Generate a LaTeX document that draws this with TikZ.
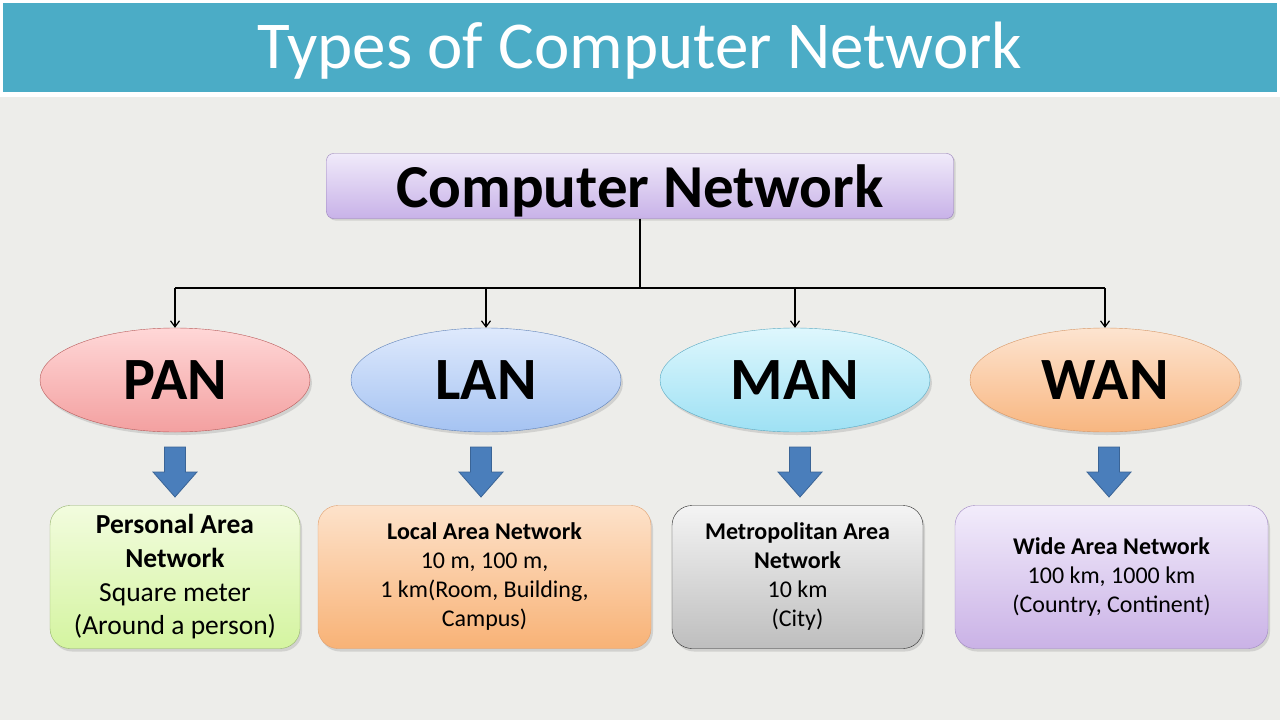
\documentclass[tikz,border=0pt]{standalone}
\usepackage{fontspec}
\setmainfont{Carlito}
\usetikzlibrary{shapes.geometric,arrows.meta,shadows}

\definecolor{bgcol}{HTML}{EDEDEA}
\definecolor{titlecol}{HTML}{4BACC6}
\definecolor{arrowcol}{HTML}{4A7EBB}
\definecolor{arrowedge}{HTML}{3A6496}

\tikzset{
  topbox/.style = {draw = {rgb,255:red,150;green,125;blue,185}, rounded corners = 7pt, top color = {rgb,255:red,240;green,234;blue,250}, bottom color = {rgb,255:red,200;green,178;blue,232}, minimum width = 627pt, minimum height = 65pt, text depth = 0pt, font = \bfseries\fontsize{61}{63}\selectfont, drop shadow = {opacity = .25, shadow xshift = 2pt, shadow yshift = -2pt}},
  kind/.style = {ellipse, minimum width = 270pt, minimum height = 104pt, font = \bfseries\fontsize{60}{62}\selectfont, drop shadow = {opacity = .25, shadow xshift = 2pt, shadow yshift = -3pt}},
  infobox/.style = {rounded corners = 20pt, minimum height = 143pt, align = center, inner sep = 0pt, drop shadow = {opacity = .25, shadow xshift = 2pt, shadow yshift = -3pt}},
  branch/.style = {draw, line width = 1.2pt, -{Straight Barb[length = 6pt, width = 9pt]}},
  dnarrow/.pic = {\path [draw = arrowedge, fill = arrowcol, line width = .8pt] (-10.5,0) -- (-10.5,25) -- (-22,25) -- (0,50) -- (22,25) -- (10.5,25) -- (10.5,0) -- cycle;}
}

\begin{document}
\begin{tikzpicture}[x = 1pt, y = -1pt]
\useasboundingbox (0,0) rectangle (1280,720);
\path [fill = bgcol] (0,0) rectangle (1280,720);

% title bar
\path [fill = white] (0,0) rectangle (1280,97);
\path [fill = titlecol] (3,3) rectangle (1277,92);
\node [text = white, font = \fontsize{67}{70}\selectfont] (title) at (640,51) {Types of Computer Network};

% root
\node [topbox] (net) at (640,186) {Computer Network};

% the four kinds
\node [kind, draw = {rgb,255:red,185;green,90;blue,90}, top color = {rgb,255:red,255;green,215;blue,215}, bottom color = {rgb,255:red,243;green,160;blue,160}] (pan) at (175,380) {PAN};
\node [kind, draw = {rgb,255:red,95;green,130;blue,185}, top color = {rgb,255:red,222;green,233;blue,252}, bottom color = {rgb,255:red,165;green,195;blue,242}] (lan) at (486,380) {LAN};
\node [kind, draw = {rgb,255:red,90;green,170;blue,195}, top color = {rgb,255:red,222;green,247;blue,253}, bottom color = {rgb,255:red,158;green,225;blue,244}] (man) at (795,380) {MAN};
\node [kind, draw = {rgb,255:red,215;green,150;blue,100}, top color = {rgb,255:red,253;green,228;blue,208}, bottom color = {rgb,255:red,248;green,182;blue,128}] (wan) at (1105,380) {WAN};

% branches
\coordinate (split) at (640,288);
\path [draw, line width = 1.2pt] (net.south) -- (split);
\path [draw, line width = 1.2pt] (pan.north |- split) -- (wan.north |- split);
\foreach \k in {pan,lan,man,wan}
  \path [branch] (\k.north |- split) -- (\k.north);

% block arrows
\foreach \xa in {175,481,800,1109}
  \pic at (\xa,447) {dnarrow};

% details
\node [infobox, draw = {rgb,255:red,150;green,180;blue,110}, top color = {rgb,255:red,242;green,252;blue,222}, bottom color = {rgb,255:red,212;green,244;blue,160}, minimum width = 250pt, font = \fontsize{27.5}{33.7}\selectfont] (pand) at (175,577) {\textbf{Personal Area}\\\textbf{Network}\\Square meter\\(Around a person)};
\node [infobox, draw = {rgb,255:red,225;green,160;blue,110}, top color = {rgb,255:red,253;green,226;blue,202}, bottom color = {rgb,255:red,248;green,178;blue,118}, minimum width = 333pt, font = \fontsize{24}{29}\selectfont] (land) at (484.5,577) {\textbf{Local Area Network}\\10 m, 100 m,\\1 km(Room, Building,\\Campus)};
\node [infobox, draw = {rgb,255:red,40;green,40;blue,40}, top color = {rgb,255:red,244;green,244;blue,244}, bottom color = {rgb,255:red,190;green,190;blue,190}, minimum width = 251pt, font = \fontsize{24}{29}\selectfont] (mand) at (797.5,577) {\textbf{Metropolitan Area}\\\textbf{Network}\\10 km\\(City)};
\node [infobox, draw = {rgb,255:red,160;green,135;blue,195}, top color = {rgb,255:red,242;green,236;blue,251}, bottom color = {rgb,255:red,202;green,178;blue,230}, minimum width = 313pt, font = \fontsize{24}{29}\selectfont] (wand) at (1111.5,577) {\textbf{Wide Area Network}\\100 km, 1000 km\\(Country, Continent)};
\end{tikzpicture}
\end{document}
